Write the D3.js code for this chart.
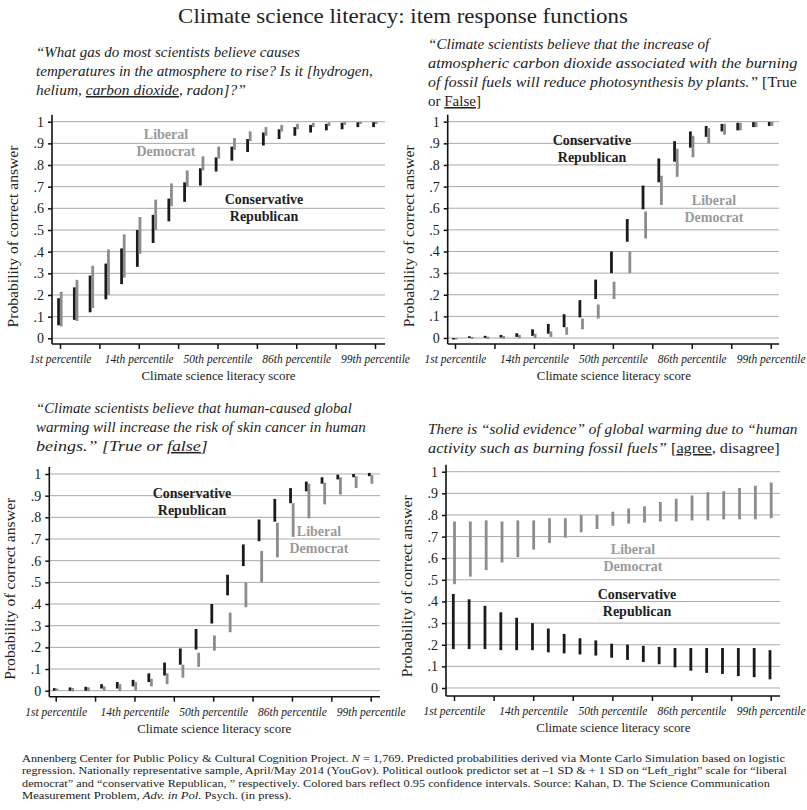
<!DOCTYPE html>
<html><head><meta charset="utf-8">
<script src="https://cdn.jsdelivr.net/npm/d3@7"></script>
<style>
body{margin:0;background:#fff;}
svg{display:block;font-family:"Liberation Serif","DejaVu Serif",serif;}
</style></head><body>
<svg id="c" width="807" height="810"></svg>
<script>
// Literacy score positions (SD units) for the 21 predicted points
const scorePoints = [-2.0,-1.8,-1.6,-1.4,-1.2,-1.0,-0.8,-0.6,-0.4,-0.2,0.0,0.2,0.4,0.6,0.8,1.0,1.2,1.4,1.6,1.8,2.0];
const tickValues = [-2,-1.5,-1,-0.5,0,0.5,1,1.5,2];
const tickLabels = {"-2":"1st percentile","-1":"14th percentile","0":"50th percentile","1":"86th percentile","2":"99th percentile"};
const yTicks = [0,0.1,0.2,0.3,0.4,0.5,0.6,0.7,0.8,0.9,1];
const yTickLabels = ["0",".1",".2",".3",".4",".5",".6",".7",".8",".9","1"];

// Panel 1: CO2 question
const q1ConsLow  = [0.06,0.085,0.12,0.18,0.25,0.33,0.44,0.54,0.63,0.705,0.77,0.82,0.86,0.89,0.92,0.935,0.95,0.96,0.965,0.975,0.975];
const q1ConsHigh = [0.185,0.235,0.29,0.345,0.415,0.50,0.57,0.645,0.72,0.785,0.835,0.885,0.92,0.95,0.965,0.975,0.985,0.99,0.995,0.997,0.998];
const q1LibLow   = [0.055,0.08,0.14,0.20,0.28,0.39,0.50,0.61,0.70,0.775,0.83,0.87,0.91,0.935,0.955,0.965,0.975,0.98,0.985,0.99,0.99];
const q1LibHigh  = [0.215,0.27,0.335,0.41,0.48,0.56,0.64,0.715,0.775,0.84,0.885,0.925,0.955,0.975,0.985,0.99,0.995,0.997,0.998,0.999,0.999];

// Panel 2: photosynthesis
const q2ConsLow  = [-0.006,0.0,0.0,0.002,0.005,0.01,0.02,0.05,0.095,0.18,0.30,0.445,0.595,0.72,0.815,0.88,0.93,0.955,0.96,0.975,0.98];
const q2ConsHigh = [0.0,0.008,0.01,0.014,0.022,0.04,0.065,0.11,0.175,0.27,0.40,0.55,0.705,0.83,0.91,0.955,0.98,0.99,0.995,0.998,0.999];
const q2LibLow   = [-0.006,-0.004,-0.004,-0.004,-0.002,0.0,0.005,0.015,0.04,0.09,0.18,0.30,0.46,0.615,0.745,0.835,0.90,0.94,0.96,0.975,0.98];
const q2LibHigh  = [0.0,0.005,0.006,0.01,0.015,0.02,0.03,0.05,0.09,0.155,0.26,0.40,0.585,0.75,0.875,0.935,0.97,0.99,0.995,0.998,0.999];

// Panel 3: skin cancer
const q3ConsLow  = [0.0,0.0,0.0,0.01,0.01,0.02,0.04,0.07,0.12,0.19,0.31,0.44,0.575,0.69,0.78,0.865,0.92,0.955,0.975,0.985,0.99];
const q3ConsHigh = [0.012,0.015,0.018,0.03,0.04,0.05,0.08,0.13,0.195,0.285,0.40,0.535,0.675,0.79,0.885,0.935,0.965,0.985,0.997,1.0,1.005];
const q3LibLow   = [0.0,-0.003,-0.002,0.0,-0.002,0.0,0.02,0.03,0.06,0.11,0.185,0.27,0.385,0.50,0.615,0.71,0.795,0.86,0.905,0.935,0.955];
const q3LibHigh  = [0.01,0.012,0.015,0.02,0.03,0.04,0.055,0.08,0.12,0.175,0.255,0.36,0.50,0.645,0.775,0.865,0.955,0.96,0.985,0.99,0.995];

// Panel 4: solid evidence
const q4ConsLow  = [0.18,0.18,0.18,0.175,0.175,0.175,0.165,0.16,0.155,0.15,0.14,0.13,0.12,0.11,0.095,0.08,0.07,0.065,0.055,0.05,0.04];
const q4ConsHigh = [0.435,0.41,0.38,0.35,0.325,0.30,0.275,0.25,0.23,0.22,0.205,0.20,0.195,0.19,0.185,0.185,0.185,0.185,0.185,0.185,0.175];
const q4LibLow   = [0.48,0.515,0.545,0.58,0.605,0.64,0.67,0.695,0.72,0.735,0.75,0.76,0.765,0.77,0.77,0.775,0.775,0.78,0.78,0.78,0.785];
const q4LibHigh  = [0.77,0.77,0.775,0.77,0.775,0.775,0.785,0.785,0.80,0.80,0.815,0.83,0.84,0.86,0.875,0.89,0.905,0.91,0.925,0.935,0.95];

const DARK = "#1b1b1b", GRAY = "#8c8c8c", LABELGRAY = "#9a9a9a";
const svg = d3.select("#c");

// horizontally scale a text element to a target width about its anchor x
function fitX(t, ax, w){
  const w0 = t.node().getBBox().width;
  if(w && w0>0){ const s = w/w0; t.attr("transform",`translate(${ax},0) scale(${s},1) translate(${-ax},0)`); }
  return t;
}

fitX(svg.append("text").attr("x",403).attr("y",23).attr("text-anchor","middle")
  .attr("font-size",22).attr("fill","#222").text("Climate science literacy: item response functions"), 403, 450);

function panel(o){
  const x = d3.scaleLinear().domain([-2,2]).range([o.x0, o.x1]);
  const y = d3.scaleLinear().domain([0,1]).range([o.y0, o.y1]);
  const g = svg.append("g");
  g.selectAll("line.grid").data(yTicks).enter().append("line")
    .attr("x1",o.ax).attr("x2",o.right).attr("y1",d=>y(d)).attr("y2",d=>y(d))
    .attr("stroke","#a9a9a9").attr("stroke-width",1);
  const ya = g.append("g").attr("transform",`translate(${o.ax},0)`)
    .call(d3.axisLeft(y).tickValues(yTicks).tickSize(4).tickFormat((d,i)=>yTickLabels[i]));
  ya.select(".domain").remove();
  ya.selectAll(".tick line").attr("stroke","#111").attr("stroke-width",1.5);
  ya.selectAll("text").attr("font-family","Liberation Serif").attr("font-size",14).attr("fill","#222").attr("dx",-1);
  g.append("line").attr("x1",o.ax).attr("x2",o.ax).attr("y1",y(1)-7).attr("y2",o.xa)
    .attr("stroke","#111").attr("stroke-width",1.6);
  const xa = g.append("g").attr("transform",`translate(0,${o.xa})`)
    .call(d3.axisBottom(x).tickValues(tickValues).tickSize(5).tickFormat(d=>tickLabels[String(d)]||""));
  xa.select(".domain").remove();
  xa.selectAll(".tick line").attr("stroke","#111").attr("stroke-width",1.5);
  xa.selectAll("text").attr("font-family","Liberation Serif").attr("font-style","italic")
    .attr("font-size",11.5).attr("fill","#222").attr("dy","0.95em");
  g.append("line").attr("x1",o.ax).attr("x2",o.right).attr("y1",o.xa).attr("y2",o.xa)
    .attr("stroke","#111").attr("stroke-width",1.6);
  const idx = d3.range(scorePoints.length);
  g.selectAll("rect.cons").data(idx).enter().append("rect")
    .attr("x",i=>x(scorePoints[i])-o.off-1.6).attr("width",2.8)
    .attr("y",i=>y(o.consHigh[i])).attr("height",i=>Math.max(1.5,y(o.consLow[i])-y(o.consHigh[i])))
    .attr("fill",DARK);
  g.selectAll("rect.lib").data(idx).enter().append("rect")
    .attr("x",i=>x(scorePoints[i])+o.off-1.4).attr("width",2.8)
    .attr("y",i=>y(o.libHigh[i])).attr("height",i=>Math.max(1.5,y(o.libLow[i])-y(o.libHigh[i])))
    .attr("fill",GRAY);
  svg.append("text").attr("transform",`translate(${o.ax-34},${y(0.47)}) rotate(-90)`)
    .attr("text-anchor","middle").attr("font-size",15).attr("fill","#222")
    .attr("textLength",182).attr("lengthAdjust","spacingAndGlyphs").text("Probability of correct answer");
  svg.append("text").attr("x",(o.x0+o.x1)/2+1).attr("y",o.xa+36).attr("text-anchor","middle")
    .attr("font-size",13.5).attr("fill","#222")
    .attr("textLength",154).attr("lengthAdjust","spacingAndGlyphs").text("Climate science literacy score");
  [[o.lib,LABELGRAY,["Liberal","Democrat"]],[o.cons,"#1e1e1e",["Conservative","Republican"]]].forEach(([p,c,t])=>{
    t.forEach((s,k)=>svg.append("text").attr("x",p[0]).attr("y",p[1]+k*16.5).attr("text-anchor","middle")
      .attr("font-size",14).attr("font-weight","bold").attr("fill",c).text(s));
  });
}

panel({x0:60,x1:375,ax:52,right:385,y0:338.3,y1:121.7,xa:344,off:1.2,
  consLow:q1ConsLow,consHigh:q1ConsHigh,libLow:q1LibLow,libHigh:q1LibHigh,
  lib:[166,139],cons:[264,204]});
panel({x0:455,x1:770.7,ax:447.7,right:779,y0:338,y1:121.7,xa:344,off:1.2,
  consLow:q2ConsLow,consHigh:q2ConsHigh,libLow:q2LibLow,libHigh:q2LibHigh,
  lib:[714,205],cons:[592,145]});
panel({x0:55.7,x1:370.7,ax:49.3,right:380,y0:690.7,y1:474,xa:696.7,off:1.2,
  consLow:q3ConsLow,consHigh:q3ConsHigh,libLow:q3LibLow,libHigh:q3LibHigh,
  lib:[319,536],cons:[192,498]});
panel({x0:454,x1:770.7,ax:446,right:780,y0:688,y1:471.7,xa:696,off:0.5,
  consLow:q4ConsLow,consHigh:q4ConsHigh,libLow:q4LibLow,libHigh:q4LibHigh,
  lib:[633,554],cons:[637,599]});

function rich(x, y, parts, size, w){
  const t = svg.append("text").attr("x",x).attr("y",y).attr("font-size",size).attr("fill","#222");
  parts.forEach(p=>{
    const s = t.append("tspan").text(p.t);
    if(p.i) s.attr("font-style","italic");
    if(p.u) s.attr("text-decoration","underline");
  });
  return fitX(t, x, w);
}
const I = t=>({t,i:true}), IU = t=>({t,i:true,u:true}), R = t=>({t}), RU = t=>({t,u:true});
const QS = 15.5;
rich(36,57,[I("“What gas do most scientists believe causes")],QS,264);
rich(36,76,[I("temperatures in the atmosphere to rise? Is it [hydrogen,")],QS,337);
rich(36,95,[I("helium, "),IU("carbon dioxide"),I(", radon]?”")],QS,210);

rich(428,49,[I("“Climate scientists believe that the increase of")],QS,284);
rich(428,68,[I("atmospheric carbon dioxide associated with the burning")],QS,370);
rich(428,87,[I("of fossil fuels will reduce photosynthesis by plants.”"),R(" [True")],QS,369);
rich(428,106,[R("or "),RU("False"),R("]")],QS,53);

rich(36,413,[I("“Climate scientists believe that human-caused global")],QS,316);
rich(36,432,[I("warming will increase the risk of skin cancer in human")],QS,330);
rich(36,451,[I("beings.”  [True or "),IU("false"),I("]")],QS,172);

rich(428,434,[I("There is “solid evidence” of global warming due to “human")],QS,370);
rich(428,453,[I("activity such as burning fossil fuels”"),R(" ["),RU("agree"),R(", disagree]")],QS,352);

const fn = [
 [[R("Annenberg Center for Public Policy & Cultural Cognition Project. "),I("N"),R(" = 1,769. Predicted probabilities derived via Monte Carlo Simulation based on logistic")],764],
 [[R("regression. Nationally representative sample, April/May 2014 (YouGov). Political outlook predictor set at –1 SD & + 1 SD on “Left_right” scale for “liberal")],766],
 [[R("democrat” and “conservative Republican, ” respectively.  Colored bars reflect 0.95 confidence intervals. Source: Kahan, D. The Science Communication")],749],
 [[R("Measurement Problem, "),I("Adv. in Pol."),R(" Psych. (in press).")],270]
];
fn.forEach(([parts,w],k)=>rich(22,762+k*12.3,parts,11,w));
</script></body></html>
